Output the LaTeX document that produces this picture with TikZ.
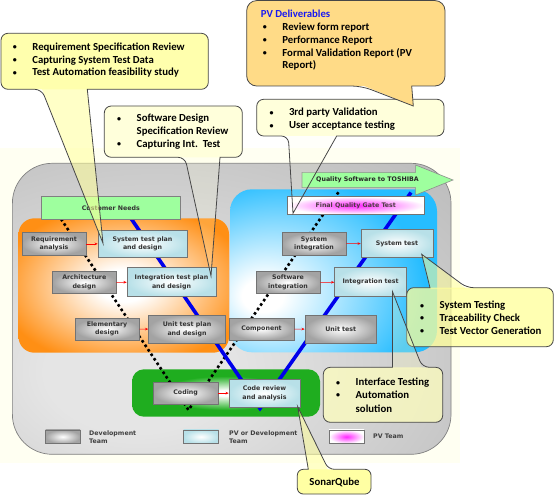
\documentclass[tikz,border=0pt]{standalone}
\usepackage{fontspec}
\setmainfont{Carlito}
\newfontfamily\bxf{DejaVu Sans}
\usetikzlibrary{arrows.meta}

\definecolor{orng}{rgb}{1,0.56,0.08}
\definecolor{cyn}{rgb}{0.15,0.74,1}
\definecolor{grn}{rgb}{0.12,0.68,0.12}
\definecolor{lgrn}{rgb}{0.62,1,0.62}
\definecolor{lblue}{rgb}{0.72,0.88,0.91}
\definecolor{gyin}{rgb}{0.9,0.9,0.9}
\definecolor{gyout}{rgb}{0.75,0.75,0.75}
\definecolor{bgy}{rgb}{1,1,0.95}
\definecolor{cyel}{rgb}{1,1,0.6}
\definecolor{ccream}{rgb}{1,1,0.86}
\definecolor{cpv}{rgb}{1,0.86,0.53}
\definecolor{cif}{rgb}{1,1,0.74}
\definecolor{pvblue}{rgb}{0.1,0.1,0.95}
\definecolor{vblue}{rgb}{0,0,0.92}

\pgfdeclareradialshading{orsh}{\pgfpoint{0bp}{0bp}}{color(0bp)=(white); color(6bp)=(white); color(30bp)=(orng); color(100bp)=(orng)}
\pgfdeclareradialshading{cysh}{\pgfpoint{-18bp}{-8bp}}{color(0bp)=(white); color(5bp)=(white); color(34bp)=(cyn); color(100bp)=(cyn)}
\pgfdeclareradialshading{grsh}{\pgfpoint{0bp}{0bp}}{color(0bp)=(white); color(3bp)=(white); color(18bp)=(grn); color(100bp)=(grn)}
\pgfdeclareradialshading{gysh}{\pgfpoint{-12bp}{-12bp}}{color(0bp)=(gyin); color(10bp)=(gyin); color(42bp)=(gyout); color(110bp)=(gyout)}

\newcommand\mybul{\makebox[19.5bp][l]{\fontsize{8}{8}\selectfont\raisebox{0.6bp}{•}}}

\begin{document}
\begin{tikzpicture}[x=1bp,y=-1bp,
  devbox/.style={draw=black!55, line width=0.6pt, shading=radial, inner color=white, outer color=black!36, inner sep=0pt, font=\bxf\bfseries\fontsize{6.3}{8.6}\selectfont, text=black!80, align=center},
  pvbox/.style={devbox, inner color=white, outer color=lblue},
  pvtbox/.style={devbox, inner color=magenta!85, outer color=white},
  redarr/.style={red, line width=0.5pt, -{Stealth[length=3.2bp,width=2.6bp]}},
  calline/.style={draw=black!72, line width=0.8pt},
  calltext/.style={inner sep=0pt, font=\bfseries\fontsize{10.8}{12.8}\selectfont, align=left, text=black},
  legtext/.style={inner sep=0pt, font=\bxf\bfseries\fontsize{6.3}{8.4}\selectfont, align=left, text=black!75},
]
\fill[white] (0,0) rectangle (556,497);
\useasboundingbox (0,0) rectangle (556,497);
\fill[bgy] (0,148) rectangle (460,463);

% main regions
\path[shading=gysh, draw=black!50, line width=0.7pt, rounded corners=40] (12.4,163.3) rectangle (451,454.3);
\path[shading=orsh, rounded corners=16] (18.5,218.3) rectangle (229,352.7);
\path[shading=cysh, rounded corners=22] (230,189.3) rectangle (437,352.3);
\path[shading=grsh, rounded corners=12] (132,369.3) rectangle (320,416.7);

% V lines
\coordinate (dA) at (61,219);
\coordinate (dV) at (188.5,410);
\coordinate (dB) at (340,190);
\draw[black, line width=2.6bp, dash pattern=on 2.6bp off 2.8bp] (dA) -- (dV) -- (dB);
\coordinate (bA) at (131.4,219);
\coordinate (bV) at (260,407);
\coordinate (bB) at (411,192.5);
\draw[vblue, line width=3.6bp, line join=round] (bA) -- (bV) -- (bB);
\fill[vblue] (256,406) -- (264,406) -- (260,411.5) -- cycle;

% customer needs
\node[draw=black!50, fill=lgrn, line width=0.6pt, minimum width=138.3bp, minimum height=22.3bp, inner sep=0pt, font=\bxf\bfseries\fontsize{6.3}{8.6}\selectfont, text=black!80] (cn) at (110.85,207.85) {Customer Needs};

% boxes
\node[devbox, minimum width=64bp, minimum height=22.3bp] (req) at (54,243.85) {Requirement\\analysis};
\node[pvbox, minimum width=89bp, minimum height=27.7bp] (stp) at (142.5,243.85) {System test plan\\and design};
\node[devbox, minimum width=63.4bp, minimum height=22.7bp] (arch) at (84.3,282.35) {Architecture\\design};
\node[pvbox, minimum width=89bp, minimum height=29bp] (itp) at (171.5,282.2) {Integration test plan\\and design};
\node[devbox, minimum width=64bp, minimum height=22bp] (elem) at (107,329) {Elementary\\design};
\node[devbox, minimum width=77bp, minimum height=28.3bp] (utp) at (187,329.15) {Unit test plan\\and design};
\node[devbox, minimum width=65bp, minimum height=22bp] (comp) at (261.5,329) {Component};
\node[devbox, minimum width=71.5bp, minimum height=28.3bp] (ut) at (340.75,329.15) {Unit test};
\node[devbox, minimum width=64bp, minimum height=22.7bp] (swi) at (288,282.35) {Software\\integration};
\node[pvbox, minimum width=72bp, minimum height=29bp] (it) at (370.65,282.2) {Integration test};
\node[devbox, minimum width=64bp, minimum height=22.3bp] (si) at (314,243.85) {System\\integration};
\node[pvbox, minimum width=72bp, minimum height=28.7bp] (st) at (397,243.35) {System test};
\node[devbox, minimum width=64.3bp, minimum height=22.3bp] (coding) at (185.65,393.15) {Coding};
\node[pvbox, minimum width=71bp, minimum height=28.3bp] (cra) at (264.5,393.15) {Code review\\and analysis};

% red arrows
\draw[redarr] (req) -- (stp);
\draw[redarr] (arch) -- (itp);
\draw[redarr] (elem) -- (utp);
\draw[redarr] (comp) -- (ut);
\draw[redarr] (swi) -- (it);
\draw[redarr] (si) -- (st);
\draw[redarr] (coding) -- (cra);

% quality arrow and final gate
\path[fill=lgrn, draw=black!45, line width=0.6pt] (302,172.3) -- (415.6,172.3) -- (415.6,165) -- (453,180) -- (415.6,195) -- (415.6,187.7) -- (302,187.7) -- cycle;
\node[inner sep=0pt, font=\bxf\bfseries\fontsize{6.3}{8.6}\selectfont, text=black!85] (qtext) at (367.5,180) {Quality Software to TOSHIBA};
\node[pvtbox, minimum width=137.5bp, minimum height=17.6bp, text=black!80!magenta] (fqg) at (355.75,205.5) {Final Quality Gate Test};

% legend
\node[devbox, minimum width=34.5bp, minimum height=13.5bp] (l1) at (62.75,436.7) {};
\node[legtext, anchor=west] (l1t) at (89,437) {Development\\Team};
\node[pvbox, minimum width=34.8bp, minimum height=13.5bp] (l2) at (201.1,436.7) {};
\node[legtext, anchor=west] (l2t) at (229,437) {PV or Development\\Team};
\node[pvtbox, minimum width=35bp, minimum height=13.5bp] (l3) at (346.5,436.7) {};
\node[legtext, anchor=west] (l3t) at (373,436.3) {PV Team};

% ---- callouts ----
% A
\fill[cyel, fill opacity=0.55] (41.7,88.5) -- (103,243.3) -- (87.3,88.5) -- cycle;
\fill[cyel!80!white, rounded corners=7] (1,33.3) rectangle (208.3,89.3);
\draw[calline] (87.3,89.3) [rounded corners=7] -- (208.3,89.3) -- (208.3,33.3) -- (1,33.3) -- (1,89.3) -- (41.7,89.3) [sharp corners] -- (103,243.3) -- cycle;
\node[calltext, anchor=west] (tA) at (12.7,60.3) {\mybul Requirement Specification Review\\\mybul Capturing System Test Data\\\mybul Test Automation feasibility study};

% B
\fill[ccream, fill opacity=0.2] (185,156.5) -- (211,276) -- (220,156.5) -- cycle;
\fill[ccream, rounded corners=7] (104.3,106) rectangle (242.3,157.3);
\draw[calline] (220,157.3) [rounded corners=7] -- (242.3,157.3) -- (242.3,106) -- (104.3,106) -- (104.3,157.3) -- (185,157.3) [sharp corners] -- (211,276) -- cycle;
\node[calltext, anchor=west] (tB) at (117,131.8) {\mybul Software Design\\\hspace*{19.5bp}Specification Review\\\mybul Capturing Int.\ \ Test};

% 3rd party
\fill[ccream, fill opacity=0.12] (288.3,135) -- (293,213.3) -- (336.7,135) -- cycle;
\fill[ccream, rounded corners=7] (256.7,99.3) rectangle (444,136);
\draw[calline] (336.7,136) [rounded corners=7] -- (444,136) -- (444,99.3) -- (256.7,99.3) -- (256.7,136) -- (288.3,136) [sharp corners] -- (293,213.3) -- cycle;
\node[calltext, anchor=west] (t3) at (269.3,119.5) {\mybul 3rd party Validation\\\mybul User acceptance testing};

% PV deliverables
\fill[cpv, rounded corners=10] (246.7,0.6) rectangle (445,86);
\fill[cpv] (361.7,85) -- (413.3,106) -- (411.7,85) -- cycle;
\draw[calline] (411.7,86) [rounded corners=10] -- (445,86) -- (445,0.6) -- (246.7,0.6) -- (246.7,86) -- (361.7,86) [sharp corners] -- (413.3,106) -- cycle;
\node[calltext, anchor=west] (tPV) at (260.7,40.4) {\textcolor{pvblue}{PV Deliverables}\\\hspace*{2bp}\mybul Review form report\\\hspace*{2bp}\mybul Performance Report\\\hspace*{2bp}\mybul Formal Validation Report (PV\\\hspace*{21.5bp}Report)};

% System testing
\fill[cyel, fill opacity=0.55] (430,289) -- (421.7,254.3) -- (466.7,289) -- cycle;
\fill[cyel, fill opacity=0.75, rounded corners=7] (406.7,287.7) rectangle (553.3,346.7);
\draw[calline] (430,287.7) [rounded corners=7] -- (406.7,287.7) -- (406.7,346.7) -- (553.3,346.7) -- (553.3,287.7) -- (466.7,287.7) [sharp corners] -- (421.7,254.3) -- cycle;
\node[calltext, anchor=west] (tST) at (420,317.8) {\mybul System Testing\\\mybul Traceability Check\\\mybul Test Vector Generation};

% Interface testing
\fill[cif, fill opacity=0.25] (392.5,368.5) -- (392.5,291.7) -- (422.3,368.5) -- cycle;
\fill[cif, fill opacity=0.72, rounded corners=7] (323.3,367.3) rectangle (442.7,422.3);
\draw[calline] (392.5,367.3) [rounded corners=7] -- (323.3,367.3) -- (323.3,422.3) -- (442.7,422.3) -- (442.7,367.3) -- (422.3,367.3) [sharp corners] -- (392.5,291.7) -- cycle;
\node[calltext, anchor=west] (tIF) at (336,395.5) {\mybul Interface Testing\\\mybul Automation\\[1.6bp]\hspace*{19.5bp}solution};

% SonarQube
\fill[cyel, fill opacity=0.55] (308.3,470.5) -- (297.7,406.7) -- (328.3,470.5) -- cycle;
\fill[cyel!90!white, rounded corners=6] (297.3,469.3) rectangle (371,494);
\draw[calline] (308.3,469.3) [rounded corners=6] -- (297.3,469.3) -- (297.3,494) -- (371,494) -- (371,469.3) -- (328.3,469.3) [sharp corners] -- (297.7,406.7) -- cycle;
\node[calltext] (tSQ) at (334.5,482) {SonarQube};
\end{tikzpicture}
\end{document}
